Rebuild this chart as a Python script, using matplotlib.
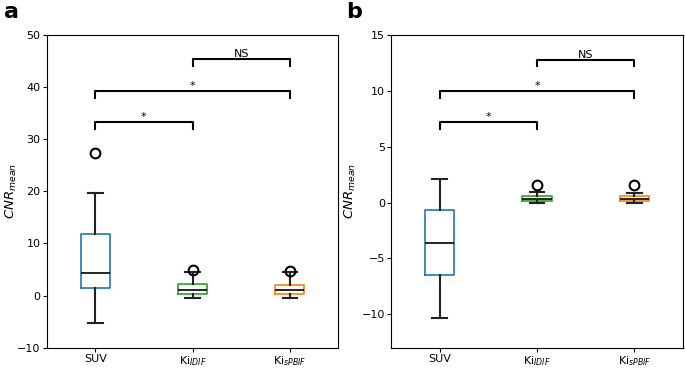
import matplotlib
matplotlib.use("Agg")
import matplotlib.pyplot as plt

groups = ["SUV", "Ki$_{IDIF}$", "Ki$_{sPBIF}$"]
box_colors = ["#1f77b4", "#2ca02c", "#ff7f0e"]

# panel a: (whislo, q1, med, q3, whishi, fliers)
a_whislo = [-5.2, -0.4, -0.4]
a_q1 = [1.4, 0.4, 0.4]
a_med = [4.3, 1.0, 1.0]
a_q3 = [11.8, 2.2, 2.1]
a_whishi = [19.7, 4.5, 4.5]
a_fliers = [[27.4], [4.9], [4.7]]

# panel b
b_whislo = [-10.3, 0.0, 0.0]
b_q1 = [-6.45, 0.15, 0.15]
b_med = [-3.6, 0.3, 0.3]
b_q3 = [-0.7, 0.55, 0.55]
b_whishi = [2.1, 0.9, 0.85]
b_fliers = [[], [1.6], [1.6]]

# brackets: (x1, x2, y, label)
a_brackets = [(1, 2, 33.3, "*"), (1, 3, 39.3, "*"), (2, 3, 45.3, "NS")]
b_brackets = [(1, 2, 7.2, "*"), (1, 3, 10.0, "*"), (2, 3, 12.8, "NS")]


def draw(ax, whislo, q1, med, q3, whishi, fliers, brackets, drop, ylim, yticks, label_x):
    stats = []
    for i in range(len(groups)):
        stats.append(dict(whislo=whislo[i], q1=q1[i], med=med[i], q3=q3[i],
                          whishi=whishi[i], fliers=fliers[i], label=groups[i]))
    bp = ax.bxp(stats, positions=[1, 2, 3], widths=0.3, patch_artist=False,
                medianprops=dict(color="black", linewidth=1.2),
                whiskerprops=dict(color="#222222", linewidth=1.5),
                capprops=dict(color="#222222", linewidth=1.5),
                flierprops=dict(marker="o", markerfacecolor="none",
                                markeredgecolor="black", markersize=7,
                                markeredgewidth=1.5))
    for box, c in zip(bp["boxes"], box_colors):
        box.set_color(c)
        box.set_linewidth(1.2)
    for x1, x2, y, lab in brackets:
        ax.plot([x1, x1, x2, x2], [y - drop, y, y, y - drop], color="black", linewidth=1.5)
        ax.text((x1 + x2) / 2, y, lab, ha="center", va="bottom", fontsize=8)
    ax.set_xlim(0.5, 3.5)
    ax.set_ylim(*ylim)
    ax.set_yticks(yticks)
    ax.set_ylabel("$CNR_{mean}$", fontsize=9.5)
    ax.yaxis.set_label_coords(label_x, 0.5)
    ax.tick_params(labelsize=8, length=3, pad=1.5)


fig, (ax1, ax2) = plt.subplots(1, 2, figsize=(6.85, 3.68), dpi=100)
fig.subplots_adjust(left=0.068, right=0.997, top=0.905, bottom=0.055, wspace=0.18)

draw(ax1, a_whislo, a_q1, a_med, a_q3, a_whishi, a_fliers, a_brackets, 1.3,
     (-10, 50), [-10, 0, 10, 20, 30, 40, 50], -0.096)
draw(ax2, b_whislo, b_q1, b_med, b_q3, b_whishi, b_fliers, b_brackets, 0.6,
     (-13, 15), [-10, -5, 0, 5, 10, 15], -0.113)

fig.text(0.006, 0.968, "a", fontsize=16, fontweight="bold", va="center")
fig.text(0.505, 0.968, "b", fontsize=16, fontweight="bold", va="center")

fig.savefig("out.png", dpi=100)
